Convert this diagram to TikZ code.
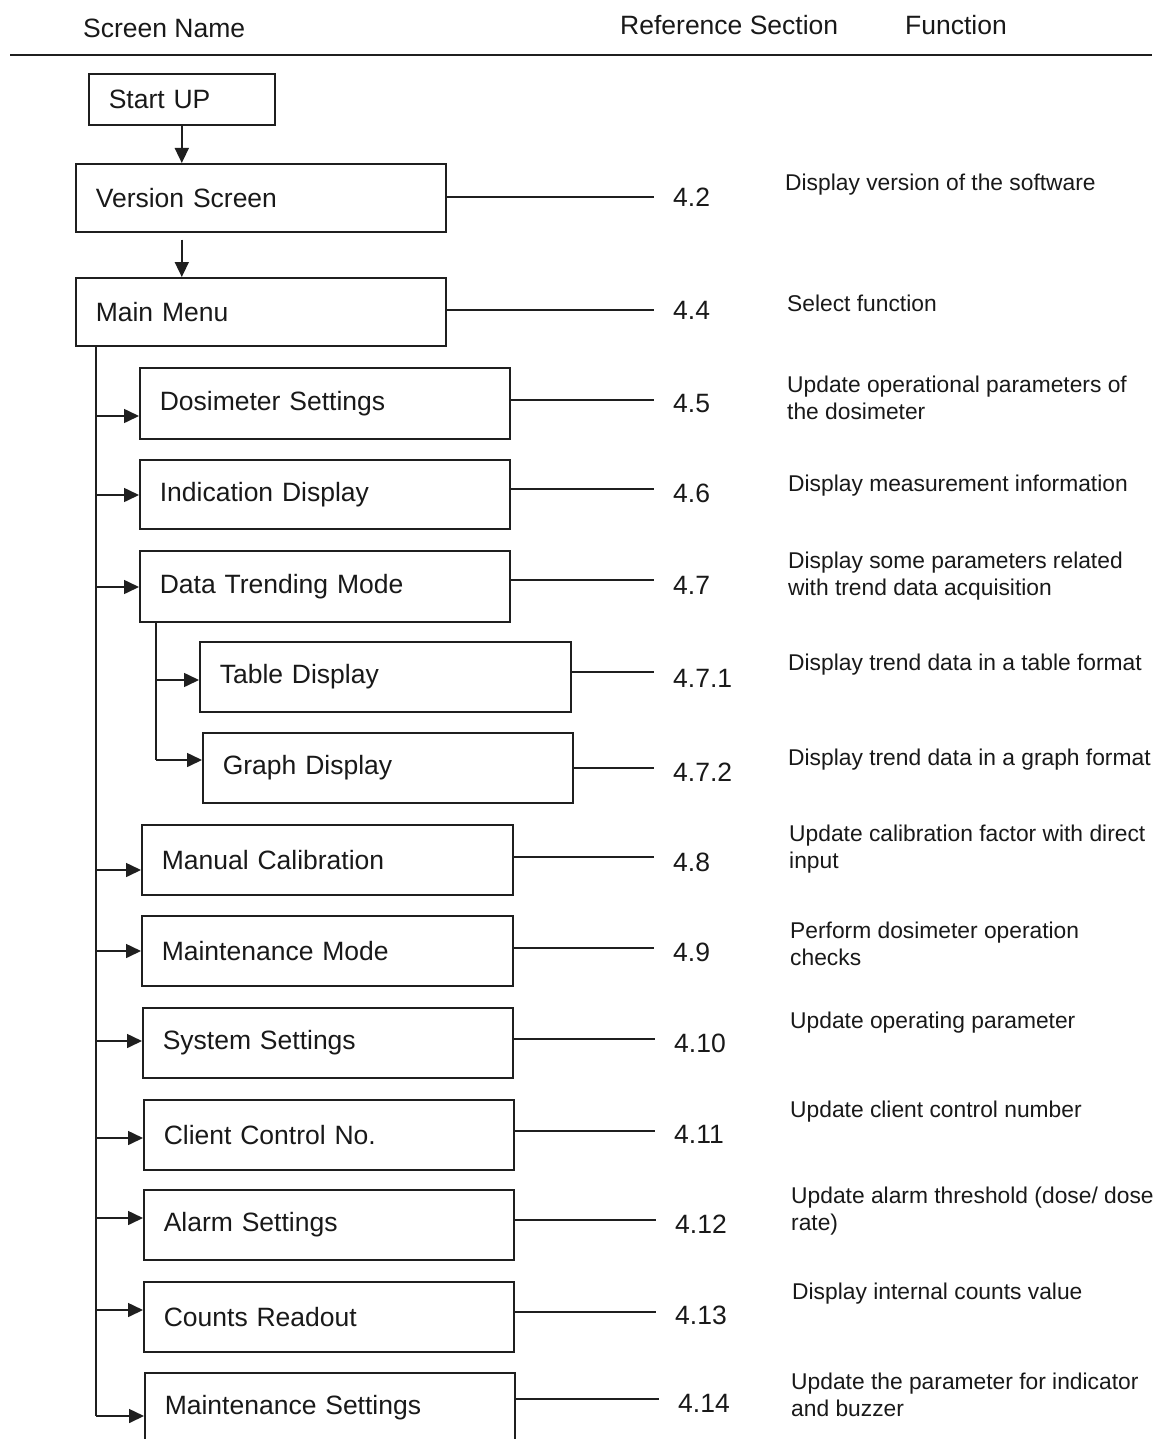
\documentclass[tikz,border=0pt]{standalone}
\usepackage{fontspec}
\setmainfont{Liberation Sans}
\usetikzlibrary{arrows.meta,calc}
\begin{document}
\begin{tikzpicture}[x=1pt,y=-1pt,
  box/.style={draw=black!88, line width=1.6pt, anchor=north west, inner xsep=20pt, inner ysep=0pt,
              align=left, font=\fontsize{26.5}{30}\selectfont, text=black!90},
  hdr/.style={anchor=west, inner sep=0pt, font=\fontsize{26.5}{30}\selectfont, text=black!90},
  ref/.style={anchor=west, inner sep=0pt, font=\fontsize{26.5}{30}\selectfont, text=black!90},
  fn/.style={anchor=west, inner sep=0pt, align=left, font=\fontsize{22.8}{26.5}\selectfont, text=black!90},
  ln/.style={line width=1.6pt, draw=black!88},
  arr/.style={line width=1.6pt, draw=black!88, -{Triangle[length=15pt,width=14pt]}},
  rl/.style={line width=1.6pt, draw=black!88, shorten >=19pt}]
\clip (0,0) rectangle (1157,1439);
\fill[white] (0,0) rectangle (1157,1439);

% header
\node[hdr] (hsn) at (83,28) {Screen Name};
\node[hdr] (hrs) at (620,25) {Reference Section};
\node[hdr] (hfn) at (905,25) {Function};
\coordinate (hl1) at (10,55);
\coordinate (hl2) at (1152,55);
\draw[ln] (hl1) -- (hl2);

% boxes
\node[box, text width=146pt, minimum height=51pt] (start) at (88,73) {Start UP};
\node[box, text width=330pt, minimum height=68pt] (ver) at (75,163) {Version Screen};
\node[box, text width=330pt, minimum height=68pt] (mainm) at (75,277) {Main Menu};
\node[box, text width=330pt, minimum height=71pt] (dos) at (139,367) {Dosimeter Settings};
\node[box, text width=330pt, minimum height=69pt] (ind) at (139,459) {Indication Display};
\node[box, text width=330pt, minimum height=71pt] (dtm) at (139,550) {Data Trending Mode};
\node[box, text width=331pt, minimum height=70pt] (tab) at (199,641) {Table Display};
\node[box, text width=330pt, minimum height=70pt] (gra) at (202,732) {Graph Display};
\node[box, text width=331pt, minimum height=70pt] (man) at (141,824) {Manual Calibration};
\node[box, text width=331pt, minimum height=70pt] (mmo) at (141,915) {Maintenance Mode};
\node[box, text width=330pt, minimum height=70pt] (sys) at (142,1007) {System Settings};
\node[box, text width=330pt, minimum height=70pt] (cli) at (143,1099) {Client Control No.};
\node[box, text width=330pt, minimum height=70pt] (ala) at (143,1189) {Alarm Settings};
\node[box, text width=330pt, minimum height=70pt] (cnt) at (143,1281) {Counts Readout};
\node[box, text width=330pt, minimum height=70pt] (mse) at (144,1372) {Maintenance Settings};

% vertical arrows
\draw[arr] (start.south) -- (ver.north -| start.south);
\draw[arr] ($(ver.south -| start.south)+(0,7)$) -- (mainm.north -| start.south);

% trunk
\coordinate (t0) at ($(mainm.south west)+(21,0)$);
\coordinate (t1) at (96,1416);
\draw[ln] (t0) -- (t1);
\draw[arr] (t0 |- 0,416) -- (dos.west |- 0,416);
\draw[arr] (t0 |- 0,495) -- (ind.west |- 0,495);
\draw[arr] (t0 |- 0,587) -- (dtm.west |- 0,587);
\draw[arr] (t0 |- 0,870) -- (man.west |- 0,870);
\draw[arr] (t0 |- 0,951) -- (mmo.west |- 0,951);
\draw[arr] (t0 |- 0,1041) -- (sys.west |- 0,1041);
\draw[arr] (t0 |- 0,1138) -- (cli.west |- 0,1138);
\draw[arr] (t0 |- 0,1218) -- (ala.west |- 0,1218);
\draw[arr] (t0 |- 0,1310) -- (cnt.west |- 0,1310);
\draw[arr] (t1) -- (mse.west |- t1);

% sub trunk
\coordinate (s0) at ($(dtm.south west)+(17,0)$);
\coordinate (s1) at (156,760);
\draw[ln] (s0) -- (s1);
\draw[arr] (s0 |- 0,680) -- (tab.west |- 0,680);
\draw[arr] (s1) -- (gra.west |- s1);

% reference numbers
\node[ref] (r42) at (673,197) {4.2};
\node[ref] (r44) at (673,310) {4.4};
\node[ref] (r45) at (673,404) {4.5};
\node[ref] (r46) at (673,493) {4.6};
\node[ref] (r47) at (673,585) {4.7};
\node[ref] (r471) at (673,678) {4.7.1};
\node[ref] (r472) at (673,772) {4.7.2};
\node[ref] (r48) at (673,862) {4.8};
\node[ref] (r49) at (673,952) {4.9};
\node[ref] (r410) at (674,1043) {4.10};
\node[ref] (r411) at (674,1134) {4.11};
\node[ref] (r412) at (675,1224) {4.12};
\node[ref] (r413) at (675,1315) {4.13};
\node[ref] (r414) at (678,1403) {4.14};

% right connectors
\draw[rl] (ver.east |- 0,197) -- (r42.west |- 0,197);
\draw[rl] (mainm.east |- 0,310) -- (r44.west |- 0,310);
\draw[rl] (dos.east |- 0,400) -- (r45.west |- 0,400);
\draw[rl] (ind.east |- 0,489) -- (r46.west |- 0,489);
\draw[rl] (dtm.east |- 0,580) -- (r47.west |- 0,580);
\draw[rl] (tab.east |- 0,672) -- (r471.west |- 0,672);
\draw[rl] (gra.east |- 0,768) -- (r472.west |- 0,768);
\draw[rl] (man.east |- 0,857) -- (r48.west |- 0,857);
\draw[rl] (mmo.east |- 0,948) -- (r49.west |- 0,948);
\draw[rl] (sys.east |- 0,1039) -- (r410.west |- 0,1039);
\draw[rl] (cli.east |- 0,1131) -- (r411.west |- 0,1131);
\draw[rl] (ala.east |- 0,1220) -- (r412.west |- 0,1220);
\draw[rl] (cnt.east |- 0,1312) -- (r413.west |- 0,1312);
\draw[rl] (mse.east |- 0,1399) -- (r414.west |- 0,1399);

% functions
\node[fn] (f42) at (785,185) {Display version of the software};
\node[fn] (f44) at (787,303) {Select function};
\node[fn] (f45) at (787,398) {Update operational parameters of\\the dosimeter};
\node[fn] (f46) at (788,486) {Display measurement information};
\node[fn] (f47) at (788,576) {Display some parameters related\\with trend data acquisition};
\node[fn] (f471) at (788,665) {Display trend data in a table format};
\node[fn] (f472) at (788,760) {Display trend data in a graph format};
\node[fn] (f48) at (789,849) {Update calibration factor with direct\\input};
\node[fn] (f49) at (790,944) {Perform dosimeter operation\\checks};
\node[fn] (f410) at (790,1023) {Update operating parameter};
\node[fn] (f411) at (790,1112) {Update client control number};
\node[fn] (f412) at (791,1211) {Update alarm threshold (dose/ dose\\rate)};
\node[fn] (f413) at (792,1294) {Display internal counts value};
\node[fn] (f414) at (791,1395) {Update the parameter for indicator\\and buzzer};
\end{tikzpicture}
\end{document}
